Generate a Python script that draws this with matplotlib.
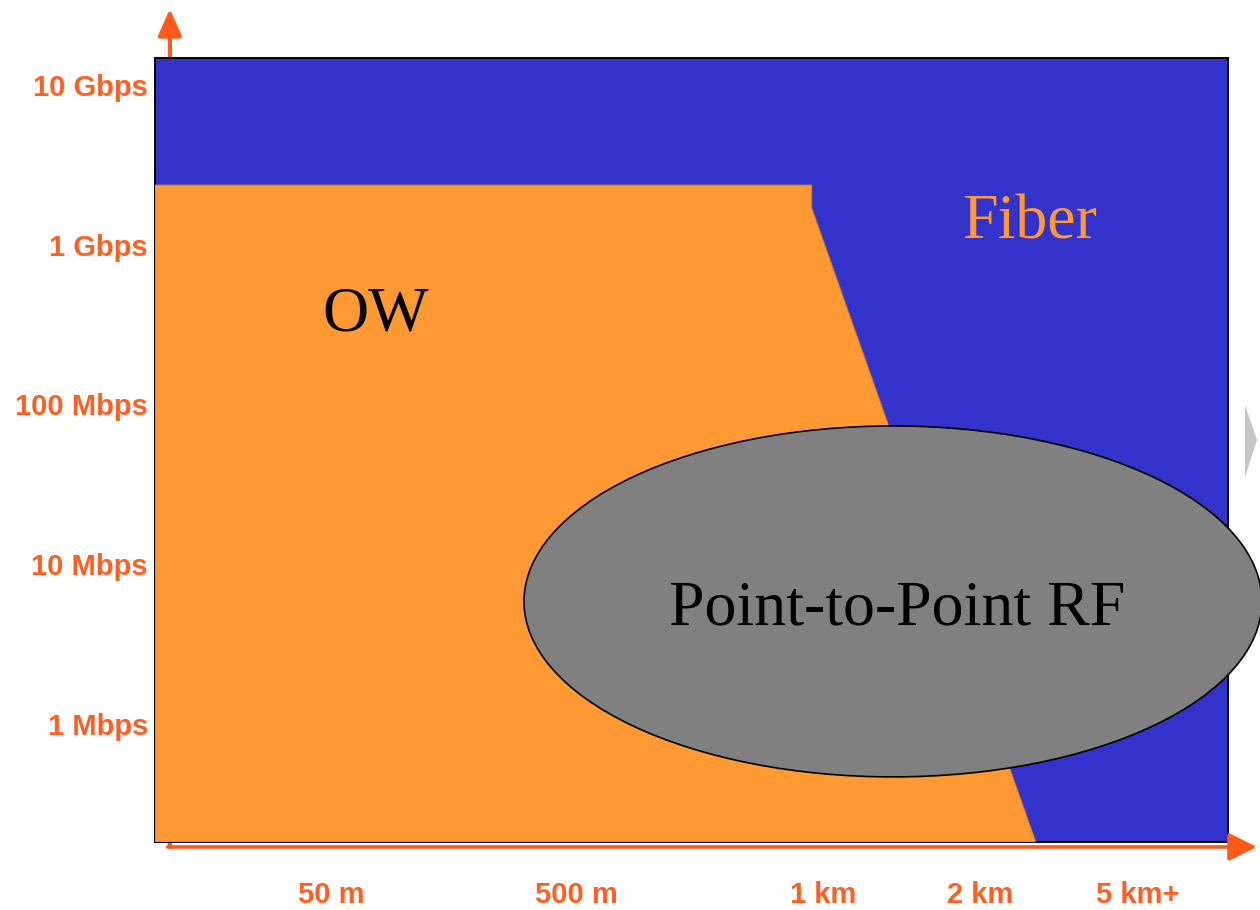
import numpy as np
import matplotlib
matplotlib.use("Agg")
import matplotlib.pyplot as plt
from matplotlib.patches import Polygon, Ellipse, FancyArrowPatch, Rectangle

# Axis categories: data rate (Mbps, shown on a log scale) and link distance
RATE_MBPS = [1, 10, 100, 1000, 10000]
RATE_LABELS = ["1 Mbps", "10 Mbps", "100 Mbps", "1 Gbps", "10 Gbps"]
DIST_LABELS = ["50 m", "500 m", "1 km", "2 km", "5 km+"]
DIST_POS = [1.0, 2.0, 3.0, 3.64, 4.28]     # schematic distance scale

# Region outlines on (distance scale, log10 Mbps)
OW_X = [0.285, 0.285, 2.955, 2.955, 3.866]
OW_Y = [-0.739, 3.374, 3.374, 3.230, -0.739]
RF_CENTER = (3.285, 0.767)
RF_SIZE = (3.0, 2.197)

XLIM = (0.285, 4.647)
YLIM = (-0.739, 4.169)

BLUE = "#3333cc"
ORANGE = "#ff9933"
GREY = "#808080"
AXIS_RED = "#ff5a1a"
LABEL_RED = "#ff5f22"

fig = plt.figure(figsize=(12.6, 9.1), dpi=100)
fig.patch.set_facecolor("white")
ax = fig.add_axes([155 / 1260, (910 - 842) / 910, (1228 - 155) / 1260, (842 - 58) / 910])
ax.set_xlim(*XLIM)
ax.set_ylim(*YLIM)
ax.patch.set_visible(False)
for s in ax.spines.values():
    s.set_color("black")
    s.set_linewidth(1.4)

# Fiber region: the whole plotting area
ax.add_patch(Rectangle((XLIM[0], YLIM[0]), XLIM[1] - XLIM[0], YLIM[1] - YLIM[0],
                       facecolor=BLUE, edgecolor="none", zorder=1))

# OW region
ow = Polygon(np.column_stack([OW_X, OW_Y]), closed=True, facecolor=ORANGE,
             edgecolor="#c07a35", linewidth=0.6, zorder=3)
ax.add_patch(ow)

# Point-to-point RF region
rf = Ellipse(RF_CENTER, RF_SIZE[0], RF_SIZE[1], facecolor=GREY,
             edgecolor="black", linewidth=1.2, zorder=4, clip_on=False)
ax.add_patch(rf)

# Region names
serif = ["Liberation Serif", "DejaVu Serif"]
ax.text(1.183, 2.46, "OW", family=serif, fontsize=46, color="black",
        ha="center", va="baseline", zorder=5)
ax.text(3.841, 3.036, "Fiber", family=serif, fontsize=46, color=ORANGE,
        ha="center", va="baseline", zorder=5)
ax.text(3.301, 0.62, "Point-to-Point RF", family=serif, fontsize=46, color="black",
        ha="center", va="baseline", zorder=5)

# Ticks and labels
sans = ["Liberation Sans", "DejaVu Sans"]
ax.set_yticks(np.log10(RATE_MBPS), RATE_LABELS)
ax.set_xticks(DIST_POS, DIST_LABELS)
ax.tick_params(length=0, labelcolor=LABEL_RED)
ax.tick_params(axis="y", pad=5)
ax.tick_params(axis="x", pad=28)
for lab in ax.get_xticklabels() + ax.get_yticklabels():
    lab.set_family(sans)
    lab.set_fontsize(21)
    lab.set_fontweight("bold")

# Axis arrows
y_arrow = FancyArrowPatch((0.3455, -0.77), (0.3455, 4.476),
                          arrowstyle="-|>,head_length=0.9,head_width=0.4",
                          mutation_scale=18, color=AXIS_RED, linewidth=3,
                          zorder=0.5, clip_on=False, shrinkA=0, shrinkB=0)
ax.add_patch(y_arrow)
x_arrow = FancyArrowPatch((0.337, -0.77), (4.764, -0.77),
                          arrowstyle="-|>,head_length=0.9,head_width=0.45",
                          mutation_scale=19, color=AXIS_RED, linewidth=2.6,
                          zorder=6, clip_on=False, shrinkA=0, shrinkB=0)
ax.add_patch(x_arrow)

# Faint grey marker at the right edge
fig.add_artist(Polygon([[1245 / 1260, 1 - 405 / 910], [1257 / 1260, 1 - 440 / 910],
                        [1245 / 1260, 1 - 477 / 910]], closed=True,
                       transform=fig.transFigure, facecolor="#b8b8b8",
                       edgecolor="none", alpha=0.8))

fig.savefig("out.png", dpi=100)
